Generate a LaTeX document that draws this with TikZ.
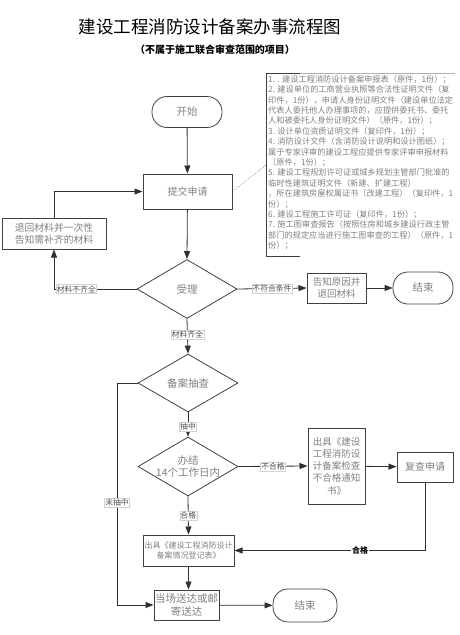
\documentclass[tikz,border=0pt]{standalone}
\usepackage{fontspec}
\setmainfont{Noto Sans CJK SC}
\usetikzlibrary{arrows.meta,shapes.geometric}
\definecolor{edge}{HTML}{303030}
\definecolor{bord}{HTML}{404040}
\definecolor{txt}{HTML}{808080}
\definecolor{ltxt}{HTML}{505050}
\tikzset{
  box/.style={draw=bord,line width=1pt,rectangle,inner sep=1pt,align=center,text=txt,font=\fontsize{10}{12}\selectfont},
  term/.style={draw=bord,line width=0.8pt,rectangle,rounded corners=15pt,inner sep=0pt,align=center,text=txt,font=\fontsize{10.5}{12}\selectfont},
  dia/.style={draw=bord,line width=0.8pt,diamond,inner sep=0pt},
  dtext/.style={text=txt,align=center,font=\fontsize{10.5}{12.5}\selectfont},
  arr/.style={draw=edge,line width=0.8pt,-{Triangle[length=8pt,width=6pt]}},
  lbl/.style={fill=white,draw=gray!35,line width=0.3pt,inner sep=0.8pt,text=ltxt,font=\fontsize{7.8}{9}\selectfont}
}
\begin{document}
\begin{tikzpicture}[x=1pt,y=-1pt]
\useasboundingbox (0,0) rectangle (460,635);
% titles
\node (title) at (210,27) {\fontsize{17.5}{20}\selectfont 建设工程消防设计备案办事流程图};
\node (subtitle) at (215,50) {\fontsize{10}{12}\selectfont\bfseries （不属于施工联合审查范围的项目）};
% nodes
\node[term,minimum width=70pt,minimum height=31pt] (start) at (187,112) {开始};
\node[box,minimum width=89pt,minimum height=35pt] (submit) at (187.5,191.5) {提交申请};
\node[box,minimum width=104pt,minimum height=31pt,font=\fontsize{9.8}{12}\selectfont] (ret) at (54,233.5) {退回材料并一次性\\告知需补齐的材料};
\node[dia,minimum width=100pt,minimum height=59pt,label={[dtext]center:受理}] (accept) at (187,289) {};
\node[box,minimum width=59pt,minimum height=30pt,font=\fontsize{9.5}{11.5}\selectfont] (notify) at (336.5,288) {告知原因并\\退回材料};
\node[term,minimum width=60pt,minimum height=32pt] (end1) at (423,288) {结束};
\node[dia,minimum width=100pt,minimum height=58pt,label={[dtext]center:备案抽查}] (check) at (188,383) {};
\node[dia,minimum width=100pt,minimum height=59pt,label={[dtext]center:办结\\14个工作日内}] (finish) at (188,466.5) {};
\node[box,minimum width=57pt,minimum height=76pt,font=\fontsize{9.5}{12.2}\selectfont] (fail) at (336.5,466) {出具《建设\\工程消防设\\计备案检查\\不合格通知\\书》};
\node[box,minimum width=56pt,minimum height=30pt] (review) at (425,467) {复查申请};
\node[box,minimum width=91pt,minimum height=31pt,font=\fontsize{8}{10.5}\selectfont] (reg) at (188.5,550.5) {出具《建设工程消防设计\\备案情况登记表》};
\node[box,minimum width=65pt,minimum height=30pt,font=\fontsize{10.5}{12.5}\selectfont] (deliver) at (186.5,605) {当场送达或邮\\寄送达};
\node[term,minimum width=64pt,minimum height=33pt] (end2) at (305,605.5) {结束};
% notes
\coordinate (nb) at (266,165);
\draw[bord,line width=1pt] (300,256) -- (266,256) -- (266,73) -- (300,73);
\draw[gray!60,line width=0.5pt] (300,73) -- (455,73);
\node[anchor=north west,inner sep=0pt,align=left,text=txt,font=\fontsize{8.2}{10.4}\selectfont] (notes) at (268,75) {%
1. . 建设工程消防设计备案申报表（原件，1份）；\\
2. 建设单位的工商营业执照等合法性证明文件（复\\
印件，1份），申请人身份证明文件（建设单位法定\\
代表人委托他人办理事项的，应提供委托书、委托\\
人和被委托人身份证明文件）（原件，1份）；\\
3. 设计单位资质证明文件（复印件，1份）；\\
4. 消防设计文件（含消防设计说明和设计图纸）；\\
属于专家评审的建设工程应提供专家评审申报材料\\
（原件，1份）；\\
5. 建设工程规划许可证或城乡规划主管部门批准的\\
临时性建筑证明文件（新建、扩建工程）\\
，所在建筑房屋权属证书（改建工程）（复印件，1\\
份）；\\
6. 建设工程施工许可证（复印件，1份）；\\
7. 施工图审查报告（按照住房和城乡建设行政主管\\
部门的规定应当进行施工图审查的工程）（原件，1\\
份）；};
\draw[edge,dotted,line width=0.6pt] (submit.east) -- (nb);
% connectors
\draw[arr] (start) -- (submit);
\draw[arr] (submit) -- (accept.north);
\draw[arr] (accept.west) -- node[lbl,pos=0.73]{材料不齐全} (accept.west -| ret.south) -- (ret.south);
\draw[arr] (ret.north) |- (submit.west);
\draw[arr] (accept.east) -- node[lbl]{不符合条件} (notify.west);
\draw[arr] (notify) -- (end1);
\draw[arr] (accept.south) -- node[lbl,pos=0.45]{材料齐全} (check.north);
\draw[arr] (check.south) -- node[lbl,pos=0.6]{抽中} (finish.north);
\draw[arr] (finish.east) -- node[lbl]{不合格} (fail.west);
\draw[arr] (fail) -- (review);
\draw[arr] (review.south) |- node[lbl,pos=0.67,draw=none,text=black,font=\fontsize{8}{9}\selectfont\bfseries]{合格} (reg.east);
\draw[arr] (finish.south) -- node[lbl]{合格} (reg.north);
\draw[arr] (reg.south) -- (reg.south |- deliver.north);
\draw[arr] (deliver) -- (end2);
\coordinate (cL) at (117,383);
\draw[arr] (check.west) -- (cL) -- node[lbl,pos=0.54]{未抽中} (cL |- deliver.west) -- (deliver.west);
\end{tikzpicture}
\end{document}
